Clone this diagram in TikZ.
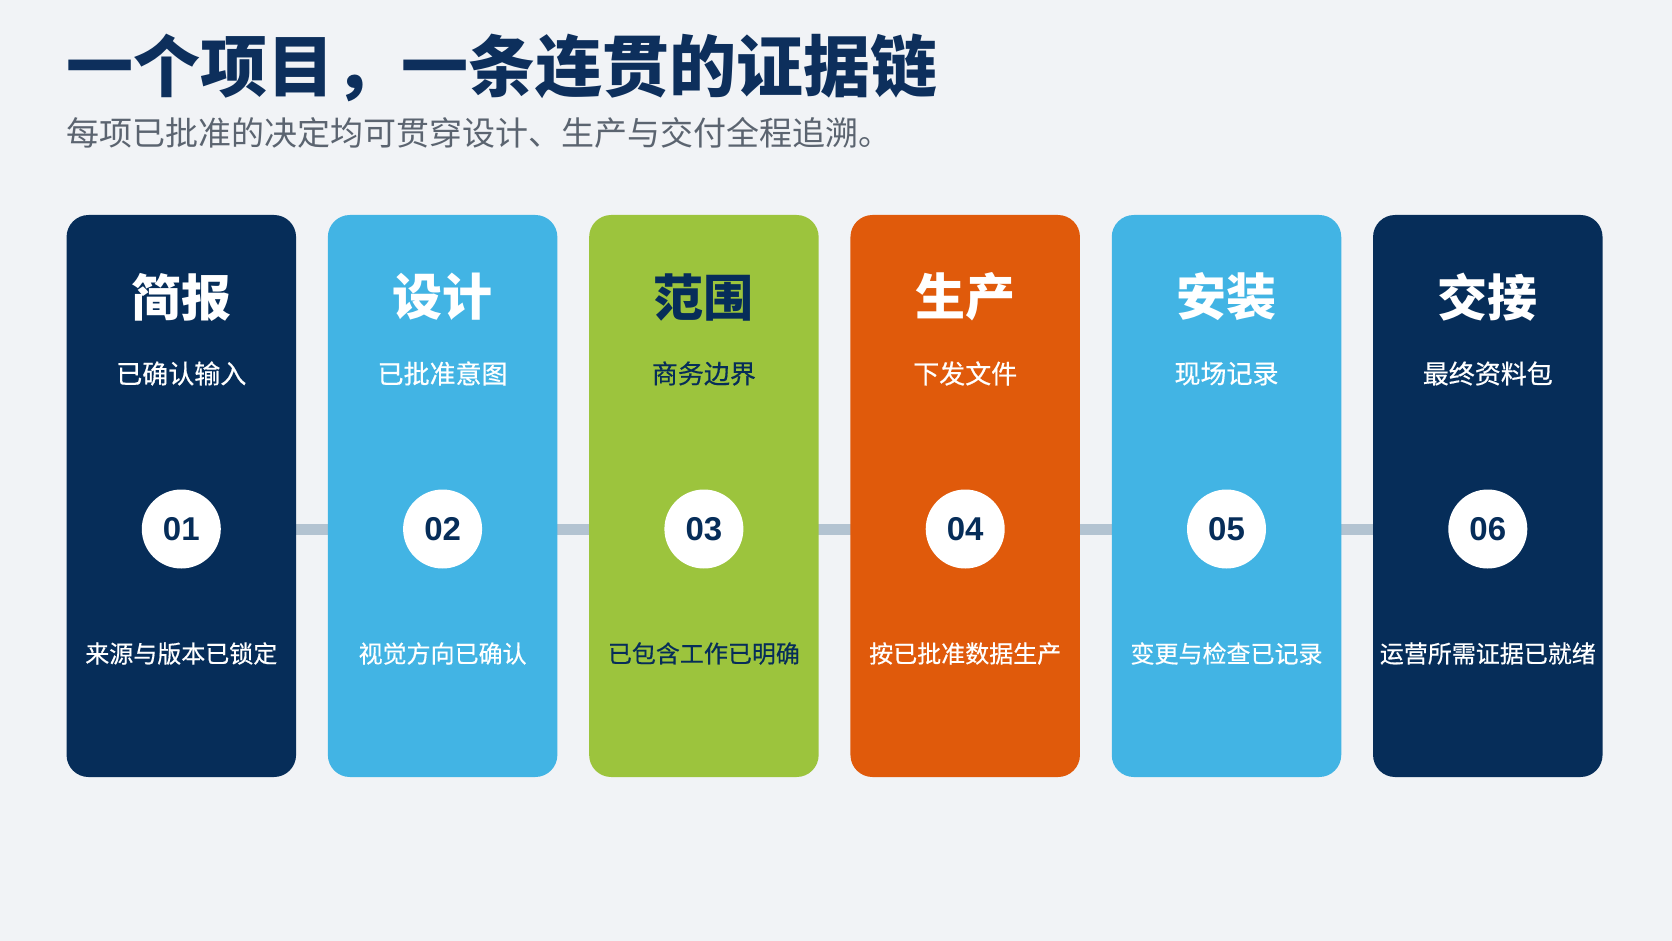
\documentclass[tikz,border=0pt]{standalone}
\usepackage{fontspec}
\setmainfont{Liberation Sans}
\newfontfamily\cjk{Noto Sans CJK SC}
\newfontfamily\cjkmed{Noto Sans CJK SC}[FakeBold=0.5]
\usetikzlibrary{backgrounds}
\definecolor{bgc}{HTML}{F1F3F6}
\definecolor{navy}{HTML}{062D59}
\definecolor{titlenavy}{HTML}{0D2F5C}
\definecolor{sky}{HTML}{42B4E4}
\definecolor{leaf}{HTML}{9CC43D}
\definecolor{flame}{HTML}{E05A0B}
\definecolor{subgrey}{HTML}{5B6470}
\definecolor{linkc}{HTML}{B3C3D1}
\tikzset{
  card/.style={rounded corners=22pt, minimum width=229.5pt, minimum height=562pt, inner sep=0pt, draw=none},
  cardtitle/.style={font=\cjk\bfseries\fontsize{50}{50}\selectfont, inner sep=0pt},
  cardsub/.style={font=\cjkmed\fontsize{26}{26}\selectfont, inner sep=0pt},
  cardfoot/.style={font=\cjkmed\fontsize{24}{24}\selectfont, inner sep=0pt},
  numdisc/.style={circle, fill=white, minimum size=79pt, inner sep=0pt, text=navy, font=\bfseries\fontsize{33}{33}\selectfont},
  link/.style={draw=linkc, line width=11pt},
}
\begin{document}
\begin{tikzpicture}[x=1pt,y=-1pt]
\useasboundingbox (0,0) rectangle (1672,941);
\begin{pgfonlayer}{background}
\fill[bgc] (0,0) rectangle (1672,941);
\end{pgfonlayer}

\node[anchor=base west, inner sep=0pt, text=titlenavy, font=\cjk\bfseries\fontsize{67}{67}\selectfont] (title) at (66,92) {一个项目，一条连贯的证据链};
\node[anchor=base west, inner sep=0pt, text=subgrey, font=\cjk\fontsize{33}{33}\selectfont] (subtitle) at (66,146) {每项已批准的决定均可贯穿设计、生产与交付全程追溯。};

\foreach \i/\col/\txt/\ttl/\sub/\foot in {
  1/navy/white/简报/已确认输入/来源与版本已锁定,
  2/sky/white/设计/已批准意图/视觉方向已确认,
  3/leaf/navy/范围/商务边界/已包含工作已明确,
  4/flame/white/生产/下发文件/按已批准数据生产,
  5/sky/white/安装/现场记录/变更与检查已记录,
  6/navy/white/交接/最终资料包/运营所需证据已就绪}{
  \pgfmathsetmacro{\cx}{181.3+(\i-1)*261.3}
  \node[card, fill=\col] (c\i) at (\cx,496) {};
  \node[cardtitle, text=\txt] (t\i) at (\cx,297) {\ttl};
  \node[cardsub, text=\txt] (s\i) at (\cx,373.5) {\sub};
  \node[numdisc] (n\i) at (\cx,529) {0\i};
  \node[cardfoot, text=\txt] (f\i) at (\cx,653.5) {\foot};
}

\begin{pgfonlayer}{background}
\draw[link] (n1) -- (n2);
\draw[link] (n2) -- (n3);
\draw[link] (n3) -- (n4);
\draw[link] (n4) -- (n5);
\draw[link] (n5) -- (n6);
\end{pgfonlayer}
\end{tikzpicture}
\end{document}
